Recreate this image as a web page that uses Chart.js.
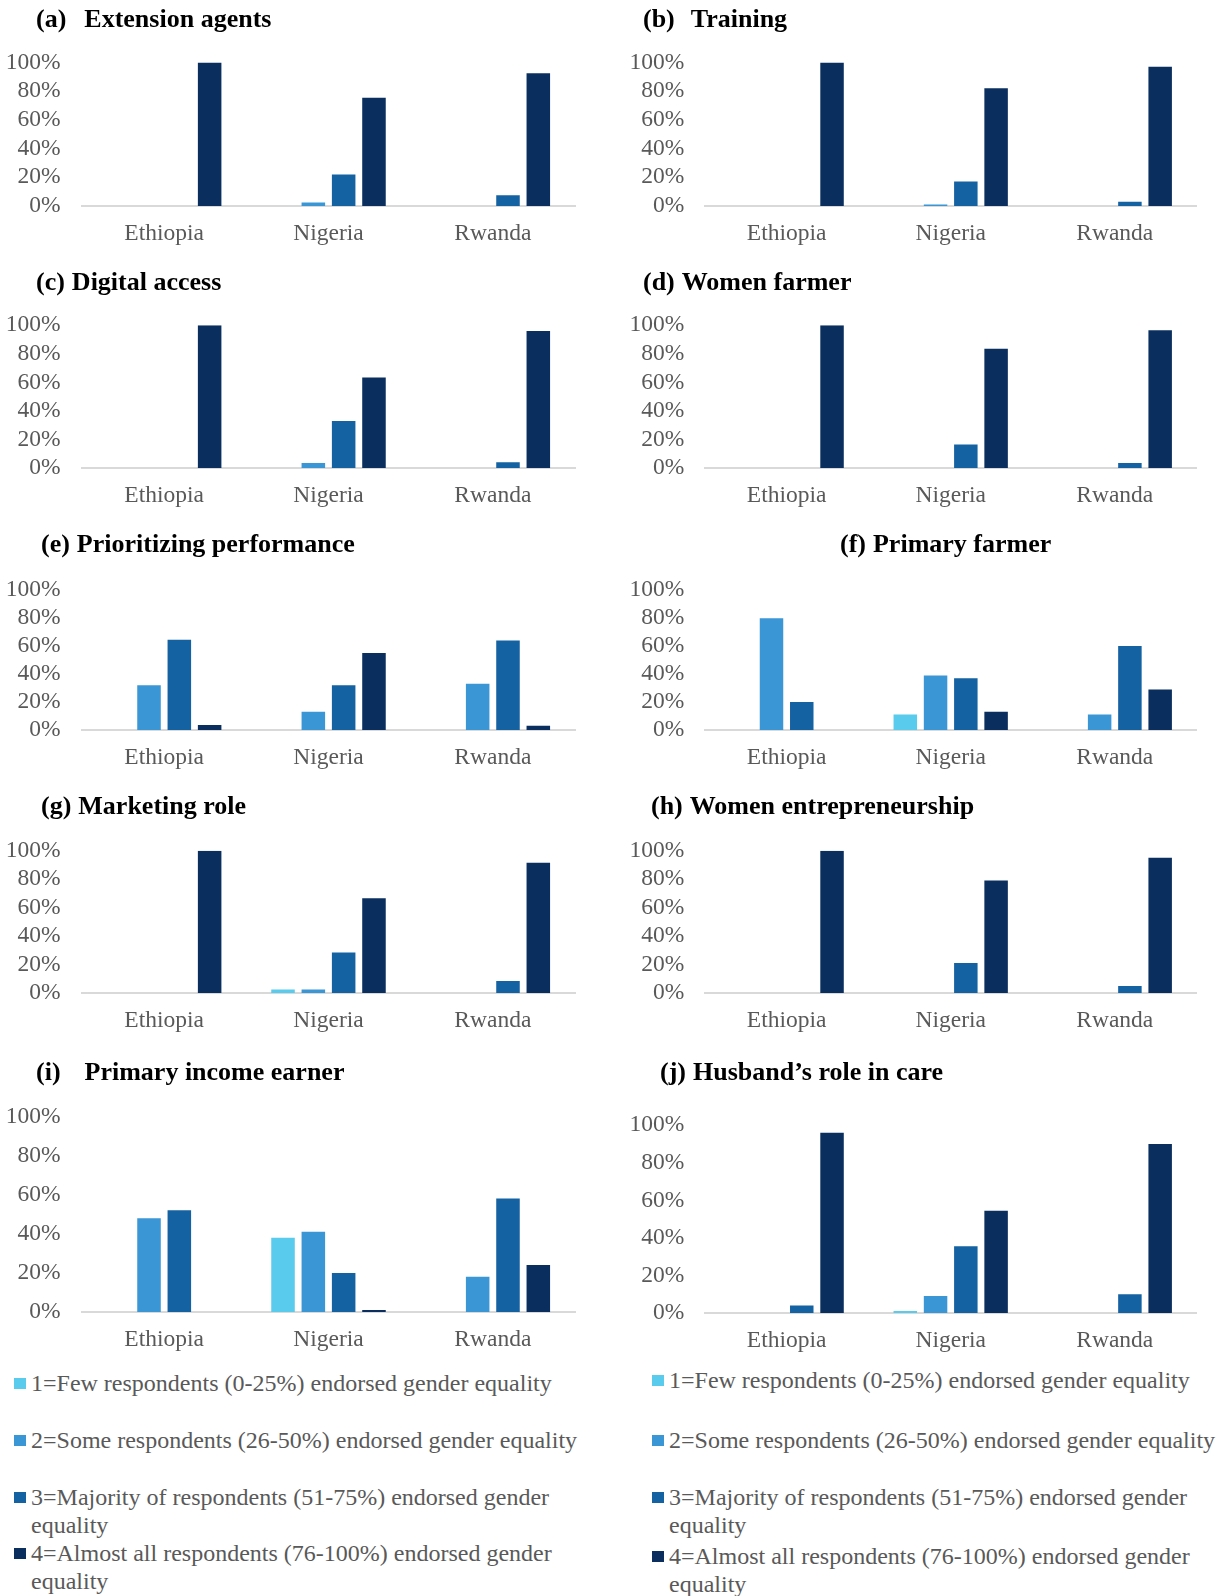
<!DOCTYPE html>
<html lang="en">
<head>
<meta charset="UTF-8">
<title>Endorsement of gender equality by country</title>
<script src="https://cdn.jsdelivr.net/npm/chart.js@4.4.0/dist/chart.umd.min.js"></script>
<style>
  body { margin: 0; background: #fff; font-family: 'Liberation Serif', 'Times New Roman', serif; }
  #page { position: relative; width: 1225px; height: 1596px; overflow: hidden; }
  canvas { position: absolute; }
  .panel-title { position: absolute; font-weight: bold; font-size: 26px; line-height: 1; color: #000; white-space: nowrap; }
  .legend-item { position: absolute; width: 575px; font-size: 24px; line-height: 28px; color: #595959; }
  .legend-item i { position: absolute; left: -17px; top: 8.5px; width: 12px; height: 11px; }
</style>
</head>
<body>
<div id="page"></div>

<script>
// categories and response levels
const countries = ['Ethiopia', 'Nigeria', 'Rwanda'];
const levelLabels = [
    '1=Few respondents (0-25%) endorsed gender equality',
    '2=Some respondents (26-50%) endorsed gender equality',
    '3=Majority of respondents (51-75%) endorsed gender equality',
    '4=Almost all respondents (76-100%) endorsed gender equality'
];
const yTicks = [0, 20, 40, 60, 80, 100];

// share of respondents per level (rows = level 1..4, columns = Ethiopia, Nigeria, Rwanda)
const extensionAgents   = [[0, 0, 0],   [0, 2.5, 0], [0, 22, 7.5],   [100, 75.5, 92.5]];
const training          = [[0, 0, 0],   [0, 1, 0],   [0, 17, 3],     [100, 82, 97]];
const digitalAccess     = [[0, 0, 0],   [0, 3.5, 0], [0, 33, 4],     [100, 63.5, 96]];
const womenFarmer       = [[0, 0, 0],   [0, 0, 0],   [0, 16.5, 3.5], [100, 83.5, 96.5]];
const prioritizing      = [[0, 0, 0],   [32, 13, 33], [64.5, 32, 64], [3.5, 55, 3]];
const primaryFarmer     = [[0, 11, 0],  [80, 39, 11], [20, 37, 60],  [0, 13, 29]];
const marketingRole     = [[0, 2.5, 0], [0, 2.5, 0], [0, 28.5, 8.5], [100, 66.5, 91.5]];
const entrepreneurship  = [[0, 0, 0],   [0, 0, 0],   [0, 21, 5],     [100, 79, 95]];
const incomeEarner      = [[0, 38, 0],  [48, 41, 18], [52, 20, 58],  [0, 1, 24]];
const husbandCare       = [[0, 1, 0],   [0, 9, 0],   [4, 35.5, 10],  [96, 54.5, 90]];

const levelColors = ['#59CBEC', '#3A96D5', '#1462A1', '#0A2F5F'];
const FONT = "'Liberation Serif', 'Times New Roman', serif";
const TITLE_SIZE = 26;

// one entry per panel: tag, heading, values, column, y of 100% line, y of axis, title baseline, title x, gap after tag
const panels = [
    { tag: '(a)', text: 'Extension agents',        rows: extensionAgents,  col: 0, top: 62.5,   axis: 205.6,  base: 27.3,   tx: 36,    gap: 18 },
    { tag: '(b)', text: 'Training',                rows: training,         col: 1, top: 62.5,   axis: 205.6,  base: 27.3,   tx: 643,   gap: 16 },
    { tag: '(c)', text: 'Digital access',          rows: digitalAccess,    col: 0, top: 325.3,  axis: 467.7,  base: 290.7,  tx: 36,    gap: 7 },
    { tag: '(d)', text: 'Women farmer',            rows: womenFarmer,      col: 1, top: 325.3,  axis: 467.7,  base: 290.7,  tx: 643,   gap: 7 },
    { tag: '(e)', text: 'Prioritizing performance', rows: prioritizing,    col: 0, top: 590.2,  axis: 730.3,  base: 552.3,  tx: 41,    gap: 7 },
    { tag: '(f)', text: 'Primary farmer',          rows: primaryFarmer,    col: 1, top: 590.2,  axis: 730.3,  base: 552.3,  tx: 840,   gap: 7 },
    { tag: '(g)', text: 'Marketing role',          rows: marketingRole,    col: 0, top: 850.7,  axis: 993.3,  base: 815,    tx: 41,    gap: 7 },
    { tag: '(h)', text: 'Women entrepreneurship',  rows: entrepreneurship, col: 1, top: 850.7,  axis: 993.3,  base: 815,    tx: 651,   gap: 7 },
    { tag: '(i)', text: 'Primary income earner',   rows: incomeEarner,     col: 0, top: 1116.5, axis: 1312.3, base: 1080.7, tx: 36,    gap: 24 },
    { tag: '(j)', text: 'Husband\u2019s role in care', rows: husbandCare,  col: 1, top: 1125.3, axis: 1312.7, base: 1080.7, tx: 660,   gap: 7 }
];

// column geometry: canvas left/width, y-axis width, right padding, label gap
const columns = [
    { left: 0,   width: 590, yWidth: 82,   padRight: 15,   tickPad: 21.5 },
    { left: 612, width: 600, yWidth: 92.6, padRight: 15.2, tickPad: 20.3 }
];
const X_AXIS_H = 52;
// room above the 100% line; must exceed half a label height plus the label gap,
// otherwise Chart.js pushes the plot area down on its own
const TOP_ROOM = 40;

const page = document.getElementById('page');

function makeChart(p) {
    const c = columns[p.col];
    const canvasTop = Math.floor(p.top) - TOP_ROOM;
    const padTop = p.top - canvasTop;
    const height = Math.round(p.axis - canvasTop) + X_AXIS_H;

    const canvas = document.createElement('canvas');
    canvas.width = c.width;
    canvas.height = height;
    canvas.style.left = c.left + 'px';
    canvas.style.top = canvasTop + 'px';
    page.appendChild(canvas);

    new Chart(canvas, {
        type: 'bar',
        data: {
            labels: countries,
            datasets: p.rows.map((vals, i) => ({
                label: levelLabels[i],
                data: vals,
                backgroundColor: levelColors[i],
                categoryPercentage: 0.738,
                barPercentage: 0.776
            }))
        },
        options: {
            responsive: false,
            animation: false,
            devicePixelRatio: 1,
            layout: { padding: { top: padTop, right: c.padRight, left: 0, bottom: 0 } },
            plugins: { legend: { display: false }, tooltip: { enabled: false } },
            scales: {
                x: {
                    grid: { display: false, drawTicks: false },
                    border: { display: true, color: '#D9D9D9', width: 2 },
                    ticks: { color: '#595959', font: { family: FONT, size: 23.5 }, padding: 13.3 },
                    afterFit: s => { s.height = X_AXIS_H; }
                },
                y: {
                    min: yTicks[0],
                    max: yTicks[yTicks.length - 1],
                    grid: { display: false, drawTicks: false },
                    border: { display: false },
                    afterBuildTicks: s => { s.ticks = yTicks.map(v => ({ value: v })); },
                    ticks: {
                        autoSkip: false,
                        color: '#595959',
                        font: { family: FONT, size: 23.5 },
                        padding: c.tickPad,
                        callback: v => v + '%'
                    },
                    afterFit: s => { s.width = c.yWidth; }
                }
            }
        }
    });

    // panel heading
    const t = document.createElement('div');
    t.className = 'panel-title';
    t.style.left = p.tx + 'px';
    t.style.top = (p.base - 0.8375 * TITLE_SIZE) + 'px';
    t.innerHTML = `<span>${p.tag}</span><span style="margin-left:${p.gap}px">${p.text}</span>`;
    page.appendChild(t);
}

panels.forEach(makeChart);

// legends under both bottom charts
const legendCols = [
    { x: 31,  lines: [1383, 1440, 1497, 1553] },
    { x: 669, lines: [1380, 1440, 1497, 1556] }
];
legendCols.forEach(lc => {
    levelLabels.forEach((label, i) => {
        const item = document.createElement('div');
        item.className = 'legend-item';
        item.style.left = lc.x + 'px';
        item.style.top = (lc.lines[i] - 14) + 'px';
        item.innerHTML = `<i style="background:${levelColors[i]}"></i>${label}`;
        page.appendChild(item);
    });
});
</script>
</body>
</html>
